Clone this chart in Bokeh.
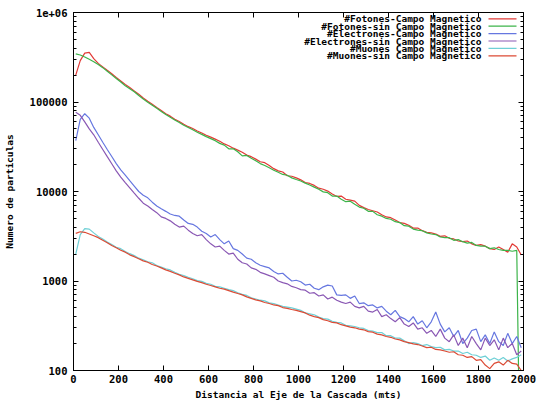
from bokeh.plotting import figure
from bokeh.models import Range1d, FixedTicker, LinearAxis, LogAxis, Label, BoxAnnotation
from bokeh.embed import file_html
from bokeh.resources import INLINE

# distance bins (m), centres of 20 m bins
dist = list(range(10, 2000, 20))

fotones_campo = [200000, 290000, 352000, 358000, 305000, 270000, 247000, 226000, 207000, 188000,
                 172000, 157000, 145000, 133000, 122000, 111000, 102000, 94500, 87000, 80500,
                 74000, 69500, 64000, 60500, 56500, 53000, 50500, 47500, 45000, 42500,
                 40500, 38500, 36500, 34000, 32500, 30500, 29000, 27500, 25500, 24500,
                 23000, 21500, 21000, 19500, 18000, 17000, 16500, 15000, 14800, 14200,
                 13500, 12600, 12300, 11700, 10900, 10600, 10100, 9400, 8800, 8900,
                 8200, 8000, 7800, 7000, 6600, 6300, 6100, 5900, 5500, 5200,
                 5100, 4800, 4500, 4400, 4200, 3900, 3900, 3650, 3500, 3450,
                 3350, 3150, 3200, 3000, 2950, 2800, 2750, 2800, 2600, 2500,
                 2550, 2450, 2300, 2250, 2400, 2250, 2100, 2600, 2400, 1950]

fotones_sin = [345000, 335000, 318000, 300000, 282000, 262000, 242000, 221000, 201000, 183000,
               167000, 152000, 141000, 130000, 118000, 108000, 99500, 92000, 85000, 78500,
               72500, 67500, 63000, 59000, 55000, 52000, 49000, 46000, 43500, 41000,
               39000, 37000, 34500, 33000, 30000, 30000, 27800, 25000, 25300, 23500,
               22000, 20500, 19500, 18400, 17300, 16400, 15500, 15200, 14200, 13600,
               13100, 12400, 11800, 11200, 10600, 9900, 9700, 8900, 8900, 8200,
               7700, 7800, 7200, 6700, 6500, 6000, 6000, 5500, 5300, 5000,
               4900, 4600, 4500, 4150, 4100, 3800, 3700, 3650, 3450, 3350,
               3300, 3100, 3050, 3050, 2850, 2900, 2750, 2650, 2700, 2500,
               2450, 2450, 2300, 2350, 2250, 2200, 2200, 2150, 2200, 1]

electrones_campo = [37000, 64000, 74000, 66000, 52000, 43000, 35500, 29500, 24600, 20500,
                    17400, 15200, 13200, 11500, 10000, 9100, 8500, 7600, 6900, 6400,
                    6000, 5600, 5400, 5300, 4800, 4400, 4300, 4000, 3600, 3400,
                    3100, 3300, 2900, 2600, 2800, 2300, 2200, 2000, 1800, 1750,
                    1600, 1500, 1450, 1400, 1280, 1200, 1220, 1100, 1000, 1020,
                    980, 900, 920, 830, 800, 860, 900, 880, 700, 690,
                    700, 640, 680, 560, 570, 530, 540, 500, 520, 460,
                    420, 470, 400, 380, 350, 400, 330, 360, 300, 350,
                    450, 330, 270, 300, 240, 280, 200, 230, 280, 290,
                    210, 250, 200, 270, 210, 190, 260, 200, 240, 180]

electrones_sin = [77000, 71000, 60000, 50000, 43000, 35500, 29500, 24500, 20400, 17000,
                  14500, 12600, 11000, 9600, 8400, 7400, 6900, 6300, 5800, 5200,
                  5000, 4700, 4300, 4000, 4100, 3700, 3400, 3200, 3300, 2900,
                  2600, 2400, 2450, 2200, 2000, 2050, 1750, 1600, 1550, 1400,
                  1350, 1250, 1200, 1150, 1100, 1000, 960, 930, 870, 840,
                  800, 790, 730, 740, 680, 700, 630, 660, 610, 580,
                  560, 580, 520, 500, 520, 460, 450, 480, 400, 420,
                  380, 350, 390, 330, 310, 340, 290, 300, 260, 280,
                  240, 290, 230, 210, 250, 190, 230, 180, 240, 200,
                  170, 230, 190, 220, 170, 230, 180, 200, 150, 165]

muones_campo = [2000, 3300, 3850, 3800, 3450, 3150, 2950, 2720, 2560, 2380,
                2300, 2130, 2020, 1920, 1800, 1730, 1640, 1600, 1490, 1430,
                1370, 1330, 1250, 1190, 1150, 1100, 1060, 1010, 990, 940,
                920, 870, 860, 830, 800, 780, 740, 710, 690, 650,
                630, 610, 600, 570, 560, 540, 520, 510, 500, 485,
                470, 440, 430, 420, 395, 380, 375, 355, 345, 340,
                320, 315, 310, 300, 295, 280, 275, 265, 265, 245,
                245, 230, 230, 215, 200, 205, 200, 190, 195, 185,
                180, 182, 170, 172, 165, 165, 155, 160, 150, 148,
                140, 145, 130, 138, 130, 140, 128, 135, 140, 150]

muones_sin = [3400, 3550, 3500, 3350, 3200, 3050, 2850, 2680, 2490, 2350,
              2210, 2100, 1960, 1870, 1770, 1680, 1620, 1530, 1470, 1400,
              1330, 1280, 1220, 1170, 1110, 1070, 1030, 990, 960, 920,
              890, 860, 830, 810, 780, 750, 725, 700, 665, 640,
              615, 600, 575, 560, 540, 530, 505, 495, 480, 470,
              455, 440, 415, 400, 390, 370, 360, 345, 340, 325,
              315, 305, 300, 290, 285, 272, 268, 255, 250, 240,
              235, 225, 220, 210, 205, 198, 195, 188, 180, 182,
              172, 170, 165, 160, 162, 150, 148, 140, 143, 130,
              132, 115, 105, 120, 125, 115, 130, 120, 118, 100]

series_names = ["#Fotones-Campo Magnetico", "#Fotones-sin Campo Magnetico",
                "#Electrones-Campo Magnetico", "#Electrones-sin Campo Magnetico",
                "#Muones Campo Magnetico", "#Muones-sin Campo Magnetico"]
series_values = [fotones_campo, fotones_sin, electrones_campo, electrones_sin,
                 muones_campo, muones_sin]
series_colors = ["#e23a36", "#3cb44a", "#6677e0", "#8a58b4", "#6fd0d6", "#dc4a34"]

x_ticks = [0, 200, 400, 600, 800, 1000, 1200, 1400, 1600, 1800, 2000]
y_ticks = [100, 1000, 10000, 100000, 1000000]
y_tick_labels = ["100", "1000", "10000", "100000", "1e+06"]
y_minor = [m * d for d in [100, 1000, 10000, 100000] for m in range(2, 10)]

FONT = "DejaVu Sans Mono"
FS = "9.5px"

p = figure(width=537, height=408, output_backend="svg", toolbar_location=None,
           y_axis_type="log", x_range=Range1d(0, 2000), y_range=Range1d(100, 1e6),
           min_border_left=69, min_border_right=14, min_border_top=12, min_border_bottom=38)
p.grid.visible = False
p.outline_line_color = "black"
p.outline_line_width = 1
p.background_fill_color = "white"
p.border_fill_color = "white"

for vals, col in zip(series_values, series_colors):
    p.line(dist, vals, line_color=col, line_width=1.2)

xa = p.xaxis[0]
xa.ticker = FixedTicker(ticks=x_ticks, minor_ticks=[])
xa.axis_label = "Distancia al Eje de la Cascada (mts)"
ya = p.yaxis[0]
ya.ticker = FixedTicker(ticks=y_ticks, minor_ticks=y_minor)
ya.major_label_overrides = {t: l for t, l in zip(y_ticks, y_tick_labels)}
ya.axis_label = "Numero de particulas"

for ax in (xa, ya):
    ax.major_tick_in = 5
    ax.major_tick_out = 0
    ax.minor_tick_in = 3
    ax.minor_tick_out = 0
    ax.axis_line_color = "black"
    ax.major_label_text_font = FONT
    ax.major_label_text_font_style = "bold"
    ax.major_label_text_font_size = "10.5px"
    ax.major_label_text_color = "black"
    ax.axis_label_text_font = FONT
    ax.axis_label_text_font_style = "bold"
    ax.axis_label_text_font_size = FS
    ax.axis_label_text_color = "black"
xa.major_label_standoff = 4
xa.axis_label_standoff = 3
ya.major_label_standoff = 6
ya.axis_label_standoff = 12

# mirrored ticks on top and right (no labels)
top = LinearAxis(ticker=FixedTicker(ticks=x_ticks, minor_ticks=[]))
right = LogAxis(ticker=FixedTicker(ticks=y_ticks, minor_ticks=y_minor))
for ax in (top, right):
    ax.major_tick_in = 5
    ax.major_tick_out = 0
    ax.minor_tick_in = 3
    ax.minor_tick_out = 0
    ax.major_label_text_color = None
    ax.major_label_standoff = 0
    ax.axis_line_color = "black"
p.add_layout(top, "above")
p.add_layout(right, "right")

# key (text right-aligned, sample line on the right), in screen units inside the frame
row_y = [351.7, 344.3, 336.9, 329.5, 322.1, 314.7]
for name, col, yy in zip(series_names, series_colors, row_y):
    p.add_layout(Label(x=408, y=yy, x_units="screen", y_units="screen", text=name,
                       text_align="right", text_baseline="middle", text_font=FONT,
                       text_font_style="bold", text_font_size=FS, text_color="black"))
    p.add_layout(BoxAnnotation(left=415, right=443, bottom=yy - 0.6, top=yy + 0.6,
                               left_units="screen", right_units="screen",
                               bottom_units="screen", top_units="screen",
                               fill_color=col, fill_alpha=1, line_color=None))

open("out.html", "w").write(file_html(p, INLINE))
